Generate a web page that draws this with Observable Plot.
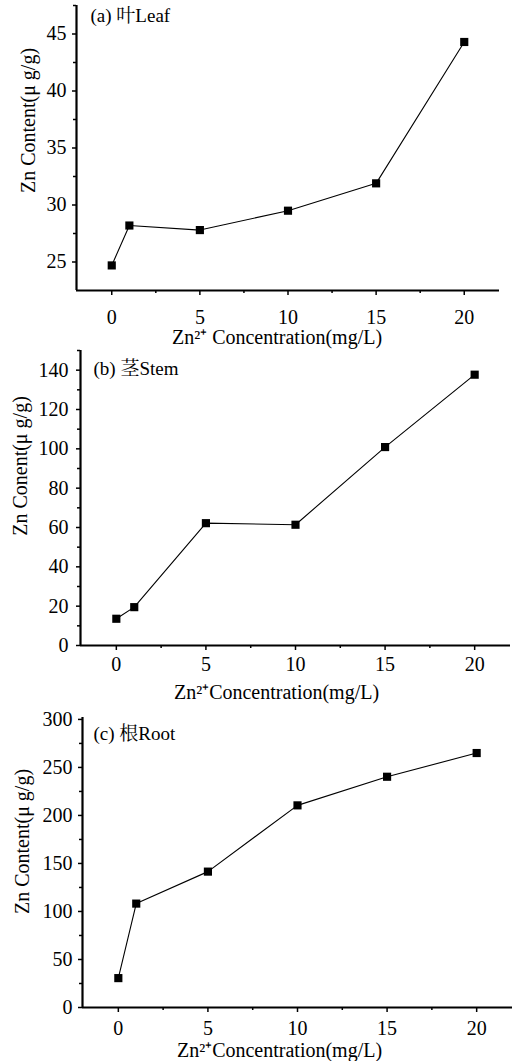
<!DOCTYPE html>
<html><head><meta charset="utf-8">
<script src="https://cdn.jsdelivr.net/npm/d3@7"></script>
<script src="https://cdn.jsdelivr.net/npm/@observablehq/plot@0.6"></script>
<style>body{margin:0;background:#fff}svg{display:block}#chart{width:520px}</style>
</head><body><div id="chart"></div>
<script>
const concentration = [0, 1, 5, 10, 15, 20];
const leafZn = [24.7, 28.2, 27.8, 29.5, 31.9, 44.3];
const stemZn = [13.6, 19.5, 62.2, 61.4, 100.9, 137.7];
const rootZn = [30.6, 108.2, 141.5, 210.5, 240.3, 265.0];
const panelLabels = ["(a) 叶Leaf", "(b) 茎Stem", "(c) 根Root"];
const yLabels = ["Zn Content(μ g/g)", "Zn Conent(μ g/g)", "Zn Content(μ g/g)"];
const xLabels = ["Zn²⁺ Concentration(mg/L)", "Zn²⁺Concentration(mg/L)", "Zn²⁺Concentration(mg/L)"];
const xTicks = [0, 5, 10, 15, 20];
const xMinorTicks = [2.5, 7.5, 12.5, 17.5];
const xDomain = [-2, 22];
const leafTicks = [25, 30, 35, 40, 45];
const leafMinor = [27.5, 32.5, 37.5, 42.5, 47.5];
const leafDomain = [22.5, 47.5];
const stemTicks = [0, 20, 40, 60, 80, 100, 120, 140];
const stemMinor = [10, 30, 50, 70, 90, 110, 130, 150];
const stemDomain = [0, 150];
const rootTicks = [0, 50, 100, 150, 200, 250, 300];
const rootMinor = [25, 75, 125, 175, 225, 275];
const rootDomain = [0, 302];

const font = "'Liberation Serif', 'Times New Roman', 'Noto Serif CJK SC', 'Noto Sans CJK SC', serif";

const panels = [
  {values: leafZn, ticks: leafTicks, minor: leafMinor, domain: leafDomain,
   height: 345, mt: 5, mb: 55, ml: 76, mr: 21,
   xPad: 14, yPad: 6, lab: [14, 10], yl: [-48, -27.5], xl: [-11, 47]},
  {values: stemZn, ticks: stemTicks, minor: stemMinor, domain: stemDomain,
   height: 360, mt: 5, mb: 60, ml: 80, mr: 10,
   xPad: 6, yPad: 8, lab: [13, 18], yl: [-60, -32], xl: [-19, 47]},
  {values: rootZn, ticks: rootTicks, minor: rootMinor, domain: rootDomain,
   height: 356, mt: 12, mb: 54, ml: 82, mr: 8,
   xPad: 8, yPad: 6, lab: [11, 16], yl: [-60, -21], xl: [-18, 43]}
];

const chart = document.getElementById("chart");
panels.forEach((p, i) => {
  const rows = concentration.map((c, j) => ({x: c, y: p.values[j]}));
  const svg = Plot.plot({
    width: 520, height: p.height,
    marginTop: p.mt, marginBottom: p.mb, marginLeft: p.ml, marginRight: p.mr,
    style: {fontFamily: font, color: "black", background: "white", overflow: "visible"},
    x: {domain: xDomain},
    y: {domain: p.domain},
    marks: [
      Plot.axisX({ticks: xTicks, tickSize: 5, tickPadding: p.xPad, fontSize: 20, strokeWidth: 1.5, label: null, tickFormat: d => d}),
      Plot.axisX({ticks: xMinorTicks, tickSize: 3, text: null, strokeWidth: 1.5, label: null}),
      Plot.axisY({ticks: p.ticks, tickSize: 4, tickPadding: p.yPad, fontSize: 20, strokeWidth: 1.5, label: null, tickFormat: d => d}),
      Plot.axisY({ticks: p.minor, tickSize: 3, text: null, strokeWidth: 1.5, label: null}),
      Plot.ruleX([xDomain[0]], {stroke: "black", strokeWidth: 2.2}),
      Plot.ruleY([p.domain[0]], {stroke: "black", strokeWidth: 2.2}),
      Plot.line(rows, {x: "x", y: "y", stroke: "black", strokeWidth: 1.1}),
      Plot.dot(rows, {x: "x", y: "y", symbol: "square", r: 4.6, fill: "black", stroke: null}),
      Plot.text([panelLabels[i]], {text: d => d, frameAnchor: "top-left", textAnchor: "start", lineAnchor: "middle", dx: p.lab[0], dy: p.lab[1], fontSize: 19, fill: "black"}),
      Plot.text([yLabels[i]], {text: d => d, frameAnchor: "left", rotate: -90, textAnchor: "middle", lineAnchor: "middle", dx: p.yl[0], dy: p.yl[1], fontSize: 20, fill: "black"}),
      Plot.text([xLabels[i]], {text: d => d, frameAnchor: "bottom", textAnchor: "middle", lineAnchor: "middle", dx: p.xl[0], dy: p.xl[1], fontSize: 20, fill: "black"})
    ]
  });
  chart.appendChild(svg);
});
</script>
</body></html>
